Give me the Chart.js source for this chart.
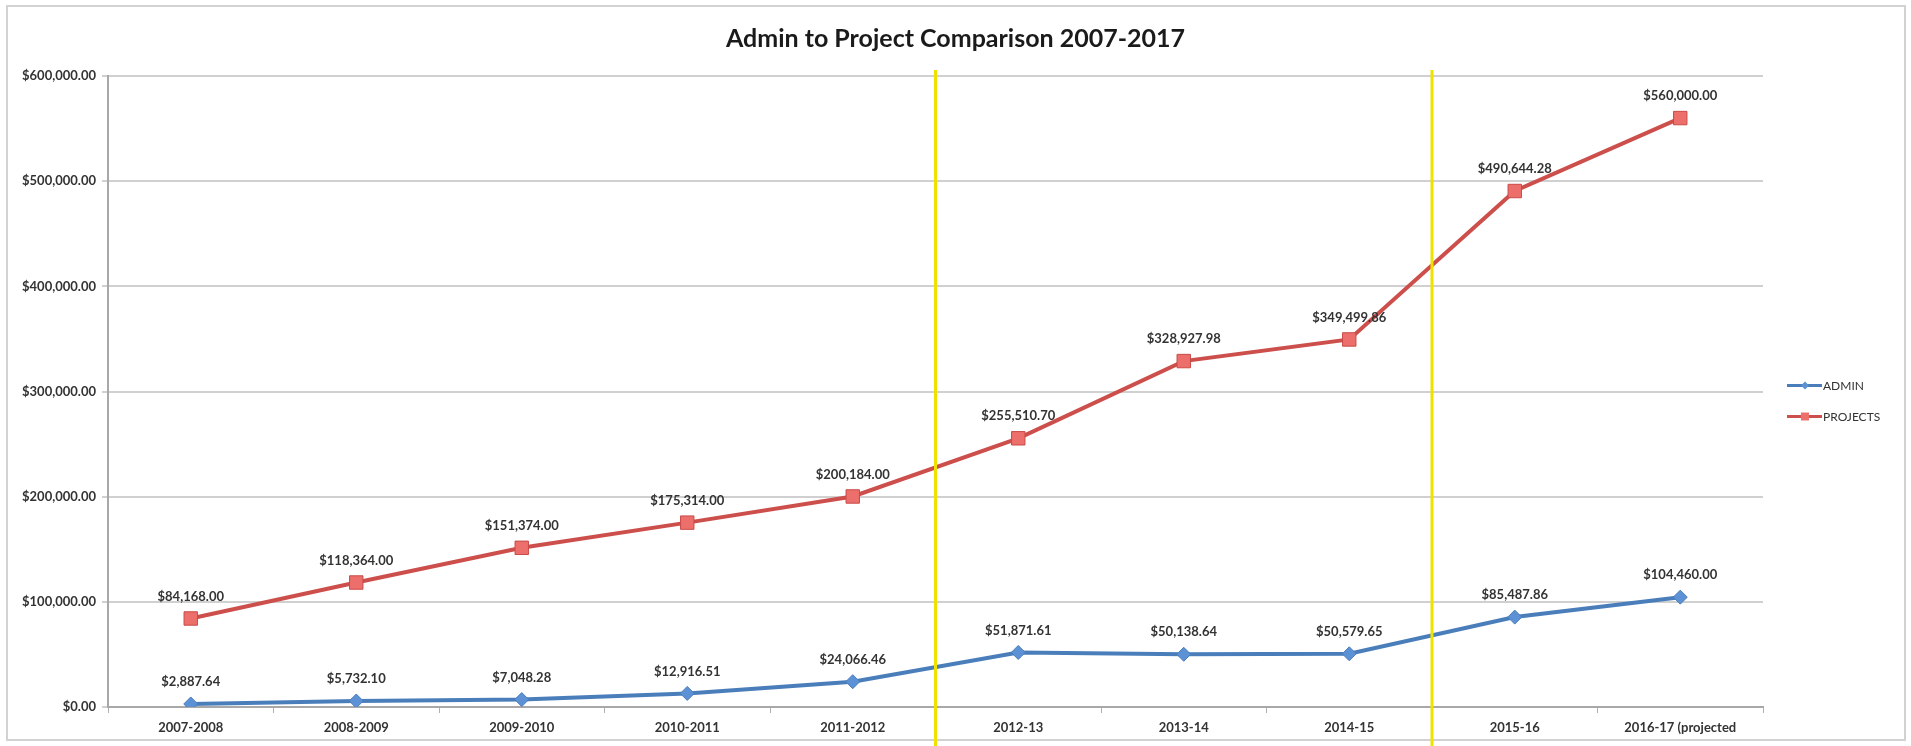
<!DOCTYPE html>
<html>
<head>
<meta charset="utf-8">
<script src="https://cdn.jsdelivr.net/npm/chart.js@4.4.1/dist/chart.umd.min.js"></script>
<style>
  html, body { margin: 0; padding: 0; background: #fff; }
  #wrap { position: relative; width: 1911px; height: 746px; }
</style>
</head>
<body>
<div id="wrap"><canvas id="chart"></canvas></div>
<script>
const categories = ['2007-2008', '2008-2009', '2009-2010', '2010-2011', '2011-2012',
  '2012-13', '2013-14', '2014-15', '2015-16', '2016-17 (projected']
const adminValues = [2887.64, 5732.10, 7048.28, 12916.51, 24066.46,
  51871.61, 50138.64, 50579.65, 85487.86, 104460.00]
const projectValues = [84168.00, 118364.00, 151374.00, 175314.00, 200184.00,
  255510.70, 328927.98, 349499.86, 490644.28, 560000.00]
const yMin = 0
const yMax = 600000
const yStep = 100000
// yellow separators sit after these category indexes
const dividerAfter = [4, 7]

const FONT = 'Lato, "Open Sans", sans-serif'
const money = v => '$' + v.toLocaleString('en-US', { minimumFractionDigits: 2, maximumFractionDigits: 2 })

// Frame around the whole chart
const framePlugin = {
  id: 'frame',
  beforeDraw(chart) {
    const ctx = chart.ctx
    ctx.save()
    ctx.fillStyle = '#fff'
    ctx.fillRect(0, 0, chart.width, chart.height)
    ctx.strokeStyle = '#d2d2d2'
    ctx.lineWidth = 2
    ctx.strokeRect(7, 6, chart.width - 13, chart.height - 12)
    ctx.restore()
  }
}

// Yellow vertical separators between periods
const dividerPlugin = {
  id: 'dividers',
  afterDatasetsDraw(chart) {
    const ctx = chart.ctx
    const x = chart.scales.x
    ctx.save()
    ctx.strokeStyle = '#efe200'
    ctx.lineWidth = 3
    dividerAfter.forEach(i => {
      const px = (x.getPixelForValue(i) + x.getPixelForValue(i + 1)) / 2
      ctx.beginPath()
      ctx.moveTo(px, chart.chartArea.top - 6)
      ctx.lineTo(px, chart.height)
      ctx.stroke()
    })
    ctx.restore()
  }
}

// Value labels above every point
const valueLabelPlugin = {
  id: 'valueLabels',
  afterDraw(chart) {
    const ctx = chart.ctx
    ctx.save()
    ctx.font = 'bold 13px ' + FONT
    ctx.fillStyle = '#333'
    ctx.textAlign = 'center'
    ctx.textBaseline = 'middle'
    chart.data.datasets.forEach((ds, di) => {
      chart.getDatasetMeta(di).data.forEach((pt, i) => {
        ctx.fillText(money(ds.data[i]), pt.x, pt.y - 22)
      })
    })
    ctx.restore()
  }
}

// Legend on the right: short line with marker, then the name
const sideLegendPlugin = {
  id: 'sideLegend',
  afterDraw(chart) {
    const ctx = chart.ctx
    const area = chart.chartArea
    const x0 = area.right + 24
    const mid = (area.top + area.bottom) / 2
    ctx.save()
    chart.data.datasets.forEach((ds, i) => {
      const y = mid - 6 + i * 31
      ctx.strokeStyle = ds.borderColor
      ctx.lineWidth = 3
      ctx.beginPath()
      ctx.moveTo(x0, y)
      ctx.lineTo(x0 + 35, y)
      ctx.stroke()
      const cx = x0 + 18
      ctx.fillStyle = ds.pointBackgroundColor
      ctx.beginPath()
      if (ds.pointStyle === 'rectRot') {
        ctx.moveTo(cx, y - 4); ctx.lineTo(cx + 4, y); ctx.lineTo(cx, y + 4); ctx.lineTo(cx - 4, y)
      } else {
        ctx.rect(cx - 4, y - 4, 8, 8)
      }
      ctx.closePath()
      ctx.fill()
      ctx.fillStyle = '#333'
      ctx.font = '12px ' + FONT
      ctx.textAlign = 'left'
      ctx.textBaseline = 'middle'
      ctx.fillText(ds.label, x0 + 36, y + 1)
    })
    ctx.restore()
  }
}

new Chart(document.getElementById('chart'), {
  type: 'line',
  data: {
    labels: categories,
    datasets: [
      {
        label: 'ADMIN',
        data: adminValues,
        borderColor: '#4a7ebb',
        borderWidth: 4,
        pointStyle: 'rectRot',
        pointRadius: 7,
        pointBackgroundColor: '#5d91d6',
        pointBorderColor: '#4a7ebb',
        pointBorderWidth: 1,
        tension: 0
      },
      {
        label: 'PROJECTS',
        data: projectValues,
        borderColor: '#cd4f4c',
        borderWidth: 4,
        pointStyle: 'rect',
        pointRadius: 9.5,
        pointBackgroundColor: '#ec6f6c',
        pointBorderColor: '#c94b48',
        pointBorderWidth: 1,
        tension: 0
      }
    ]
  },
  options: {
    responsive: true,
    maintainAspectRatio: false,
    animation: false,
    layout: {
      padding: 0
    },
    scales: {
      x: {
        offset: true,
        afterFit: scale => { scale.height = 39 },
        grid: {
          offset: true,
          drawOnChartArea: false,
          drawTicks: true,
          tickLength: 6,
          color: '#b0b0b0'
        },
        border: { color: '#a8a8a8', width: 2 },
        ticks: {
          font: { family: FONT, size: 13, weight: 'bold' },
          color: '#333',
          padding: 7,
          maxRotation: 0,
          autoSkip: false
        }
      },
      y: {
        min: yMin,
        max: yMax,
        afterFit: scale => { scale.width = 108 },
        grid: {
          color: '#d0d0d0',
          lineWidth: 2,
          tickLength: 6
        },
        border: { color: '#a8a8a8', width: 2 },
        ticks: {
          stepSize: yStep,
          font: { family: FONT, size: 13, weight: 'bold' },
          color: '#333',
          padding: 6,
          callback: v => money(v)
        }
      },
      // empty right-hand box that leaves room for the legend
      legendRoom: {
        type: 'linear',
        position: 'right',
        afterFit: scale => { scale.width = 148 },
        grid: { display: false },
        border: { display: false },
        ticks: { display: false }
      }
    },
    plugins: {
      legend: { display: false },
      tooltip: { enabled: false },
      title: {
        display: true,
        text: 'Admin to Project Comparison 2007-2017',
        font: { family: FONT, size: 25, weight: 'bold' },
        color: '#1a1a1a',
        padding: { top: 24, bottom: 22 }
      }
    }
  },
  plugins: [framePlugin, dividerPlugin, valueLabelPlugin, sideLegendPlugin]
})
</script>
</body>
</html>
